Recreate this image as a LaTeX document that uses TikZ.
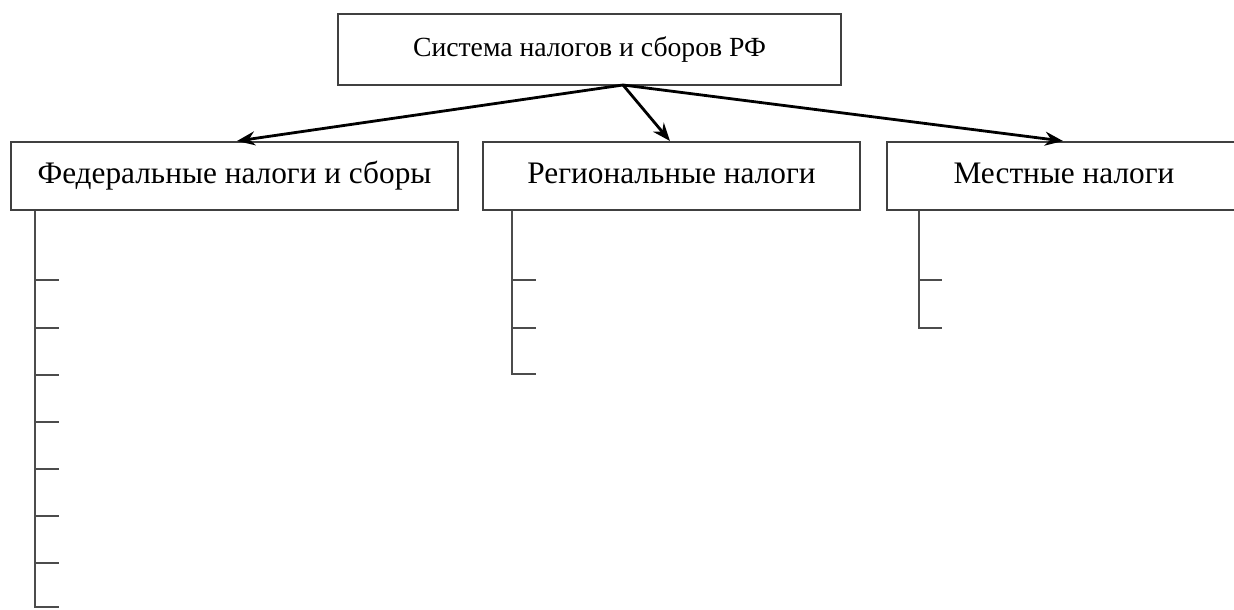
\documentclass[tikz,border=0pt]{standalone}
\usepackage{fontspec}
\setmainfont{Liberation Serif}
\usetikzlibrary{arrows.meta}
\begin{document}
\begin{tikzpicture}[x=1pt,y=-1pt,
  box/.style={draw=black!75,line width=2pt,fill=white,inner sep=0pt,text height=22pt,text depth=7pt,font=\fontsize{31.3}{36}\selectfont},
  arr/.style={line width=2.8pt,-{Stealth[length=18pt,width=14pt]}},
  branch/.style={draw=black!70,line width=2.2pt}]
\useasboundingbox (0,0) rectangle (1234,610);
\clip (0,0) rectangle (1234,610);
\fill[white] (0,0) rectangle (1234,610);
\node[box,minimum width=503pt,minimum height=71pt,font=\fontsize{27.7}{33}\selectfont] (top) at (589.5,49.5) {Система налогов и сборов РФ};
\node[box,minimum width=447pt,minimum height=68pt] (fed) at (234.5,176) {Федеральные налоги и сборы};
\node[box,minimum width=377pt,minimum height=68pt] (reg) at (671.5,176) {Региональные налоги};
\node[box,minimum width=354pt,minimum height=68pt] (loc) at (1064,176) {Местные налоги};
\coordinate (o) at (623,85);
\draw[arr] (o) -- (fed.north -| 237,0);
\draw[arr] (o) -- (reg.north -| 670,0);
\draw[arr] (o) -- (loc.north -| 1063,0);
% federal branch
\draw[branch] (fed.south -| 35,0) -- (35,607) -- (59,607);
\foreach \y in {280,328,375,422,469,516,563} \draw[branch] (35,\y) -- (59,\y);
% regional branch
\draw[branch] (reg.south -| 512,0) -- (512,374) -- (536,374);
\foreach \y in {280,328} \draw[branch] (512,\y) -- (536,\y);
% local branch
\draw[branch] (loc.south -| 919,0) -- (919,328) -- (942,328);
\draw[branch] (919,280) -- (942,280);
\end{tikzpicture}
\end{document}
